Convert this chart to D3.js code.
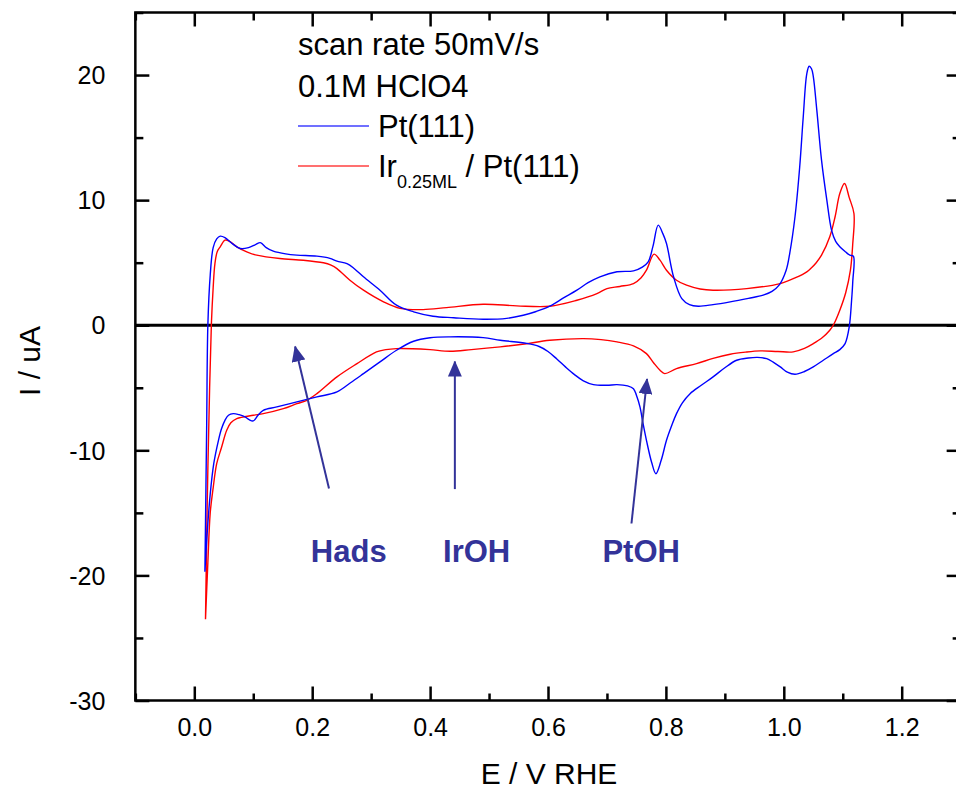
<!DOCTYPE html>
<html>
<head>
<meta charset="utf-8">
<script src="https://cdn.jsdelivr.net/npm/d3@7"></script>
<style>
  html, body { margin: 0; padding: 0; background: #fff; }
  svg { display: block; font-family: "Liberation Sans", Arial, sans-serif; }
</style>
</head>
<body>
<svg id="chart" width="956" height="790"></svg>
<script>
// ---------------- data ----------------
const ptPotential = [0.018,0.021,0.023,0.027,0.032,0.038,0.044,0.052,0.065,0.078,0.092,0.104,0.112,0.122,0.134,0.155,0.174,0.208,0.23,0.242,0.259,0.272,0.287,0.315,0.343,0.372,0.405,0.44,0.49,0.53,0.558,0.58,0.603,0.627,0.649,0.668,0.688,0.717,0.745,0.76,0.77,0.778,0.787,0.795,0.801,0.813,0.827,0.84,0.855,0.88,0.909,0.94,0.965,0.98,0.992,1.004,1.01,1.019,1.027,1.033,1.039,1.043,1.047,1.05,1.056,1.064,1.073,1.081,1.088,1.095,1.105,1.112,1.118,
  1.117,1.115,1.111,1.104,1.095,1.084,1.067,1.05,1.035,1.019,1.006,0.994,0.982,0.971,0.955,0.94,0.92,0.9,0.88,0.86,0.841,0.828,0.818,0.81,0.801,0.792,0.783,0.776,0.767,0.761,0.756,0.75,0.745,0.735,0.717,0.7,0.677,0.66,0.645,0.63,0.615,0.6,0.585,0.564,0.519,0.49,0.434,0.4,0.372,0.343,0.315,0.287,0.265,0.242,0.208,0.174,0.14,0.117,0.108,0.1,0.093,0.086,0.076,0.066,0.058,0.052,0.046,0.041,0.033,0.027,0.022,0.018];
const ptCurrent = [-19.7,-8,0,4,6.2,6.9,7.12,7.0,6.5,6.13,6.2,6.45,6.6,6.2,5.92,5.7,5.6,5.52,5.35,5.12,4.93,4.5,3.87,2.8,1.6,1.07,0.72,0.6,0.48,0.55,0.8,1.1,1.52,2.2,2.8,3.4,3.87,4.27,4.35,4.65,5.07,6.3,8.0,7.3,6.53,3.87,2.13,1.65,1.52,1.65,1.87,2.15,2.4,2.7,3.2,4.4,5.73,8.67,12.67,16.67,20.1,20.7,20.5,19.9,17.2,13.2,10,7.6,6.7,6.27,5.85,5.6,5.52,
  3.5,2.0,-0.13,-1.47,-1.95,-2.27,-2.8,-3.33,-3.7,-3.92,-3.75,-3.33,-2.95,-2.67,-2.57,-2.62,-2.8,-3.4,-4.13,-4.8,-5.47,-6.2,-7.07,-8.0,-9.2,-10.8,-11.87,-11.0,-9.2,-7.8,-6.53,-5.6,-5.07,-4.85,-4.75,-4.8,-4.75,-4.45,-3.95,-3.35,-2.7,-2.1,-1.7,-1.45,-1.2,-0.99,-0.93,-1.0,-1.28,-2.0,-2.93,-3.87,-4.6,-5.33,-5.73,-6.13,-6.53,-6.8,-7.2,-7.65,-7.55,-7.33,-7.15,-7.07,-7.2,-7.6,-8.3,-9.2,-11.07,-13.5,-16.5,-19.7];

const irPotential = [0.019,0.022,0.026,0.029,0.032,0.035,0.039,0.044,0.052,0.06,0.072,0.09,0.106,0.145,0.185,0.219,0.232,0.242,0.264,0.287,0.321,0.349,0.388,0.428,0.49,0.547,0.603,0.649,0.683,0.7,0.722,0.745,0.758,0.767,0.78,0.79,0.801,0.818,0.835,0.858,0.88,0.937,0.994,1.02,1.039,1.047,1.055,1.064,1.078,1.087,1.095,1.103,1.111,1.119,
  1.117,1.113,1.105,1.095,1.085,1.078,1.065,1.05,1.035,1.016,0.99,0.96,0.935,0.909,0.88,0.852,0.818,0.798,0.79,0.779,0.767,0.745,0.717,0.69,0.66,0.603,0.56,0.519,0.47,0.434,0.4,0.37,0.343,0.325,0.309,0.276,0.242,0.208,0.191,0.174,0.151,0.117,0.1,0.072,0.062,0.055,0.046,0.038,0.032,0.027,0.023,0.019];
const irCurrent = [-23.5,-14,-5,0.13,3,4.93,5.9,6.27,6.8,6.7,6.27,5.85,5.6,5.33,5.2,4.99,4.8,4.53,3.6,2.8,1.87,1.35,1.25,1.41,1.68,1.55,1.52,2.0,2.53,2.93,3.1,3.33,3.8,4.4,5.68,5.2,4.4,3.6,3.2,2.9,2.8,2.93,3.33,3.8,4.27,4.6,5.0,5.6,7.07,8.67,10.53,11.33,10.2,8.93,
  6.53,4.4,2.6,1.2,0.1,-0.4,-1.0,-1.47,-1.85,-2.13,-2.1,-2.05,-2.15,-2.32,-2.65,-3.07,-3.47,-3.87,-3.6,-3.0,-2.27,-1.65,-1.33,-1.15,-1.07,-1.2,-1.5,-1.73,-1.95,-2.08,-1.95,-1.88,-1.87,-1.95,-2.13,-3.07,-4.13,-5.47,-6.0,-6.27,-6.67,-7.07,-7.2,-7.47,-7.8,-8.4,-9.8,-11.07,-13,-15,-19,-23.5];

const xTickValues = [0.0, 0.2, 0.4, 0.6, 0.8, 1.0, 1.2];
const xTickLabels = ["0.0", "0.2", "0.4", "0.6", "0.8", "1.0", "1.2"];
const xMinorTicks = [-0.1, 0.1, 0.3, 0.5, 0.7, 0.9, 1.1, 1.3];
const yTickValues = [-30, -20, -10, 0, 10, 20];
const yTickLabels = ["-30", "-20", "-10", "0", "10", "20"];
const yMinorTicks = [-25, -15, -5, 5, 15, 25];

const seriesNames = ["Pt(111)", "Ir / Pt(111)"];
const seriesColors = ["#0000ff", "#ff0000"];
const legendTitle = ["scan rate 50mV/s", "0.1M HClO4"];

// annotations: label, label position (E, I), arrow tail (E, I), arrow tip (E, I)
const annLabels = ["Hads", "IrOH", "PtOH"];
const annLabelE = [0.262, 0.479, 0.758];
const annLabelI = [-18.95, -18.95, -18.95];
const annTailE = [0.2285, 0.442, 0.7416];
const annTailI = [-13.05, -13.1, -15.85];
const annTipE = [0.171, 0.442, 0.768];
const annTipI = [-1.7, -2.9, -4.3];

// ---------------- chart ----------------
(function () {
const svg = d3.select("#chart");
const x = d3.scaleLinear().domain([-0.1, 1.3]).range([135.35, 960.65]);
const y = d3.scaleLinear().domain([-30, 25]).range([700.5, 12.5]);
const X0 = x(-0.1), X1 = x(1.3), Y0 = y(-30), Y1 = y(25);
const axisColor = "#000";
const annColor = "#333399";

// zero line
svg.append("line").attr("x1", X0).attr("x2", X1).attr("y1", y(0)).attr("y2", y(0))
  .attr("stroke", "#000").attr("stroke-width", 3);

// curves
const line = d3.line().x(d => x(d[0])).y(d => y(d[1])).curve(d3.curveCatmullRom.alpha(0.5));
const ptData = ptPotential.map((e, i) => [e, ptCurrent[i]]);
const irData = irPotential.map((e, i) => [e, irCurrent[i]]);
svg.append("path").datum(irData).attr("d", line).attr("fill", "none")
  .attr("stroke", seriesColors[1]).attr("stroke-width", 1.4);
svg.append("path").datum(ptData).attr("d", line).attr("fill", "none")
  .attr("stroke", seriesColors[0]).attr("stroke-width", 1.4);

// axes (all ticks inward)
function styleAxis(g) {
  g.select(".domain").remove();
  g.selectAll(".tick line").attr("stroke", axisColor).attr("stroke-width", 2.5);
  g.selectAll("text").attr("fill", "#000").style("font-size", "25px")
    .style("font-family", "'Liberation Sans', Arial, sans-serif");
}
const gBottom = svg.append("g").attr("transform", `translate(0,${Y0})`)
  .call(d3.axisBottom(x).tickValues(xTickValues).tickSize(-14).tickPadding(22)
    .tickFormat((d, i) => xTickLabels[i]));
styleAxis(gBottom);
gBottom.selectAll("text").attr("dy", "0").attr("y", 35.5);
const gBottomMinor = svg.append("g").attr("transform", `translate(0,${Y0})`)
  .call(d3.axisBottom(x).tickValues(xMinorTicks).tickSize(-7).tickFormat(""));
styleAxis(gBottomMinor);

const gTop = svg.append("g").attr("transform", `translate(0,${Y1})`)
  .call(d3.axisTop(x).tickValues(xTickValues).tickSize(-14).tickFormat(""));
styleAxis(gTop);
const gTopMinor = svg.append("g").attr("transform", `translate(0,${Y1})`)
  .call(d3.axisTop(x).tickValues(xMinorTicks).tickSize(-8).tickFormat(""));
styleAxis(gTopMinor);

const gLeft = svg.append("g").attr("transform", `translate(${X0},0)`)
  .call(d3.axisLeft(y).tickValues(yTickValues).tickSize(-14).tickPadding(30)
    .tickFormat((d, i) => yTickLabels[i]));
styleAxis(gLeft);
gLeft.selectAll("text").attr("dy", "0.35em");
const gLeftMinor = svg.append("g").attr("transform", `translate(${X0},0)`)
  .call(d3.axisLeft(y).tickValues(yMinorTicks).tickSize(-8).tickFormat(""));
styleAxis(gLeftMinor);

const gRight = svg.append("g").attr("transform", `translate(${X1},0)`)
  .call(d3.axisRight(y).tickValues(yTickValues).tickSize(-14).tickFormat(""));
styleAxis(gRight);
const gRightMinor = svg.append("g").attr("transform", `translate(${X1},0)`)
  .call(d3.axisRight(y).tickValues(yMinorTicks).tickSize(-8).tickFormat(""));
styleAxis(gRightMinor);

// frame
svg.append("rect").attr("x", X0).attr("y", Y1).attr("width", X1 - X0).attr("height", Y0 - Y1)
  .attr("fill", "none").attr("stroke", axisColor).attr("stroke-width", 2.5);

// axis titles
svg.append("text").attr("x", 549).attr("y", 784).attr("text-anchor", "middle")
  .style("font-size", "30px").text("E / V RHE");
svg.append("text").attr("transform", "translate(40,361) rotate(-90)").attr("text-anchor", "middle")
  .style("font-size", "30px").text("I / uA");

// legend
const legend = svg.append("g");
legend.selectAll("text.title").data(legendTitle).join("text").attr("class", "title")
  .attr("x", 298).attr("y", (d, i) => 55 + i * 42)
  .style("font-size", "31px").text(d => d);
seriesColors.forEach((c, i) => {
  legend.append("line").attr("x1", 298).attr("x2", 369)
    .attr("y1", 126 + i * 40).attr("y2", 126 + i * 40)
    .attr("stroke", c).attr("stroke-width", 1.4).attr("stroke-opacity", 0.75);
});
legend.append("text").attr("x", 378).attr("y", 137).style("font-size", "31px").text(seriesNames[0]);
const t2 = legend.append("text").attr("x", 378).attr("y", 177).style("font-size", "31px");
t2.append("tspan").text("Ir");
t2.append("tspan").attr("dy", 11).style("font-size", "18px").text("0.25ML");
t2.append("tspan").attr("dy", -11).text(" / Pt(111)");

// annotations
const defs = svg.append("defs");
defs.append("marker").attr("id", "ahead").attr("markerUnits", "userSpaceOnUse")
  .attr("viewBox", "0 0 16 14").attr("refX", 15).attr("refY", 7)
  .attr("markerWidth", 16).attr("markerHeight", 14).attr("orient", "auto")
  .append("path").attr("d", "M0,0 L16,7 L0,14 Z").attr("fill", annColor);

annLabels.forEach((lab, i) => {
  svg.append("line")
    .attr("x1", x(annTailE[i])).attr("y1", y(annTailI[i]))
    .attr("x2", x(annTipE[i])).attr("y2", y(annTipI[i]))
    .attr("stroke", annColor).attr("stroke-width", 2)
    .attr("marker-end", "url(#ahead)");
  svg.append("text").attr("x", x(annLabelE[i])).attr("y", y(annLabelI[i]))
    .attr("text-anchor", "middle").attr("fill", annColor)
    .style("font-size", "31px").style("font-weight", "bold").text(lab);
});
})();
</script>
</body>
</html>
